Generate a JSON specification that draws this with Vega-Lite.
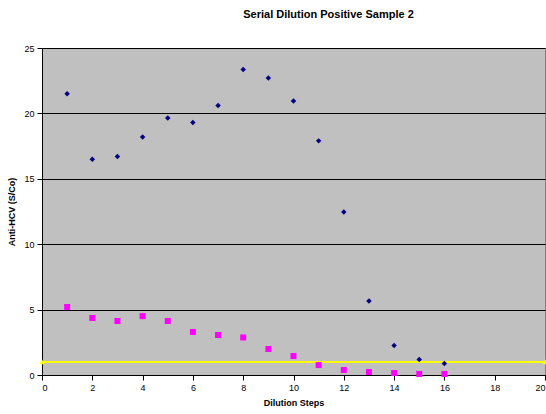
{
  "$schema": "https://vega.github.io/schema/vega-lite/v6.json",
  "width": 503,
  "height": 327,
  "autosize": {"type": "none"},
  "padding": {"left": 42, "top": 48, "right": 1, "bottom": 39},
  "background": "white",
  "title": {
    "text": "Serial Dilution Positive Sample 2",
    "font": "Liberation Sans",
    "fontSize": 11,
    "fontWeight": "bold",
    "color": "black",
    "anchor": "middle",
    "dx": 35,
    "offset": 24
  },
  "config": {
    "view": {"fill": "#C0C0C0", "stroke": "#808080", "strokeWidth": 1},
    "axis": {
      "labelFont": "Liberation Sans",
      "labelFontSize": 9,
      "labelColor": "black",
      "titleFont": "Liberation Sans",
      "titleFontSize": 9,
      "titleFontWeight": "bold",
      "titleColor": "black",
      "domainColor": "black",
      "tickColor": "black",
      "tickSize": 5,
      "gridColor": "black",
      "gridOpacity": 1,
      "gridWidth": 1
    }
  },
  "datasets": {
    "blue": [
      {"step": 1, "value": 21.5},
      {"step": 2, "value": 16.5},
      {"step": 3, "value": 16.7},
      {"step": 4, "value": 18.2},
      {"step": 5, "value": 19.65},
      {"step": 6, "value": 19.3},
      {"step": 7, "value": 20.6},
      {"step": 8, "value": 23.35},
      {"step": 9, "value": 22.7},
      {"step": 10, "value": 20.95},
      {"step": 11, "value": 17.9},
      {"step": 12, "value": 12.46},
      {"step": 13, "value": 5.66},
      {"step": 14, "value": 2.25},
      {"step": 15, "value": 1.18},
      {"step": 16, "value": 0.88}
    ],
    "magenta": [
      {"step": 1, "value": 5.2},
      {"step": 2, "value": 4.36},
      {"step": 3, "value": 4.13},
      {"step": 4, "value": 4.5},
      {"step": 5, "value": 4.13},
      {"step": 6, "value": 3.29},
      {"step": 7, "value": 3.06},
      {"step": 8, "value": 2.87},
      {"step": 9, "value": 1.99},
      {"step": 10, "value": 1.45},
      {"step": 11, "value": 0.76},
      {"step": 12, "value": 0.38},
      {"step": 13, "value": 0.23},
      {"step": 14, "value": 0.15},
      {"step": 15, "value": 0.08},
      {"step": 16, "value": 0.08}
    ],
    "cutoff": [
      {"step": 0, "value": 1},
      {"step": 20, "value": 1}
    ]
  },
  "encoding": {
    "x": {
      "field": "step",
      "type": "quantitative",
      "scale": {"domain": [0, 20], "nice": false},
      "axis": {"values": [0, 2, 4, 6, 8, 10, 12, 14, 16, 18, 20], "grid": false, "title": "Dilution Steps", "titlePadding": 6, "labelPadding": 3}
    },
    "y": {
      "field": "value",
      "type": "quantitative",
      "scale": {"domain": [0, 25], "nice": false},
      "axis": {"values": [0, 5, 10, 15, 20, 25], "grid": true, "title": "Anti-HCV (S/Co)", "titlePadding": 7, "labelPadding": 3}
    }
  },
  "layer": [
    {
      "data": {"name": "cutoff"},
      "mark": {"type": "line", "color": "#FFFF00", "strokeWidth": 2, "clip": false, "point": {"shape": "triangle-up", "filled": true, "color": "#FFFF00", "size": 30}}
    },
    {
      "data": {"name": "magenta"},
      "mark": {"type": "point", "shape": "square", "filled": true, "color": "#FF00FF", "size": 36, "opacity": 1}
    },
    {
      "data": {"name": "blue"},
      "mark": {"type": "point", "shape": "diamond", "filled": true, "color": "#000080", "size": 30, "opacity": 1}
    }
  ]
}
